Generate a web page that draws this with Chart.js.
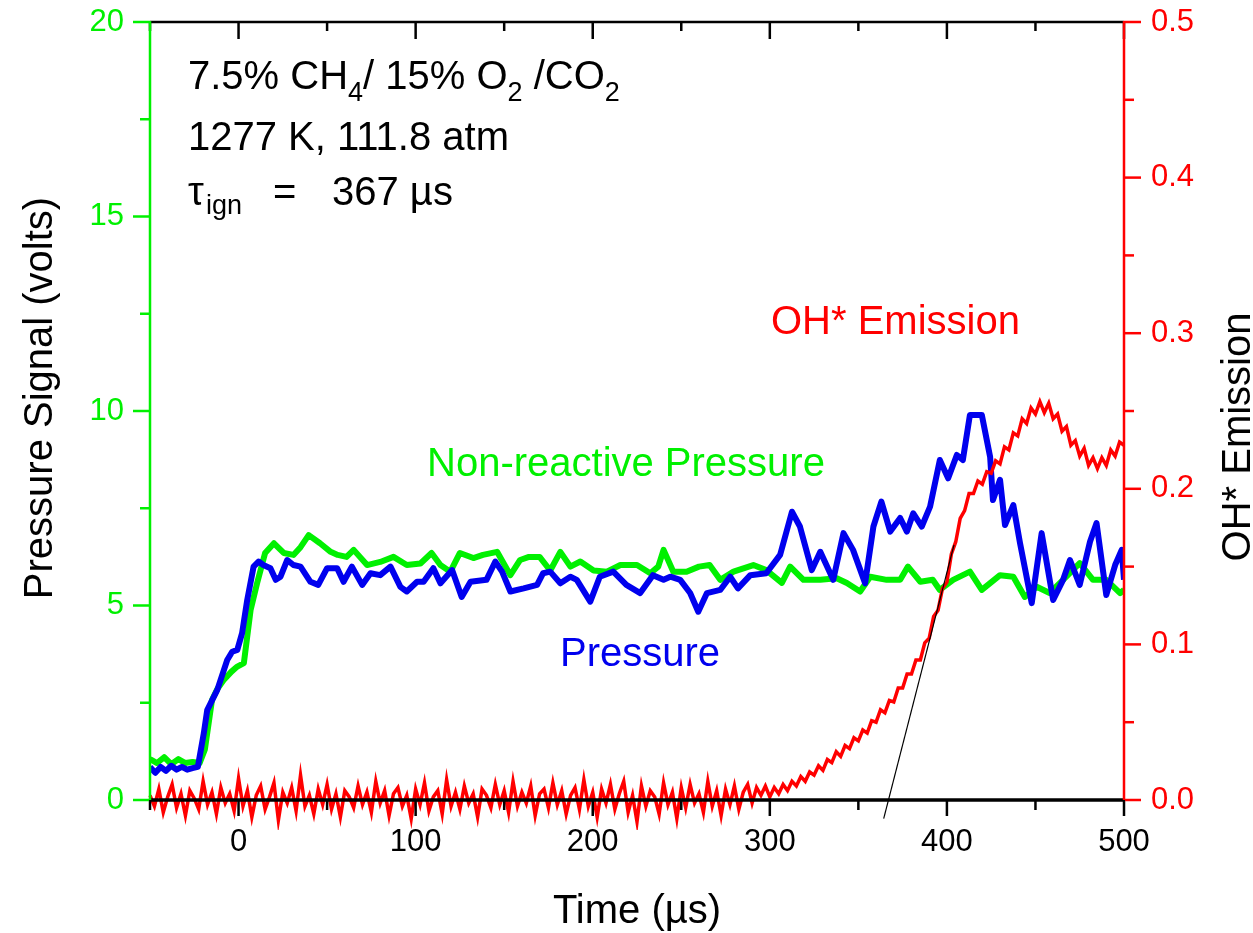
<!DOCTYPE html>
<html>
<head>
<meta charset="utf-8">
<script src="https://cdn.jsdelivr.net/npm/chart.js@4.4.0/dist/chart.umd.min.js"></script>
<style>
  html, body { margin: 0; padding: 0; background: #fff; }
</style>
</head>
<body>
<canvas id="myChart" width="1253" height="933"></canvas>
<script>
// axis ticks
const timeTicks = [0, 100, 200, 300, 400, 500];
const timeMinor = [-50, 50, 150, 250, 350, 450];
const pressureTicks = [0, 5, 10, 15, 20];
const pressureMinor = [2.5, 7.5, 12.5, 17.5];
const ohTicks = [0, 0.1, 0.2, 0.3, 0.4, 0.5];
const ohMinor = [0.05, 0.15, 0.25, 0.35, 0.45];

// non-reactive pressure (green), time in us / volts
const nonReactiveTime = [-50, -46, -42, -38, -34, -30, -26, -22, -19, -15, -12, -8.5, -4, -0.7, 3, 6.8, 10.5, 15, 20, 25.5,
  31, 35, 39.6, 46, 52, 56, 61, 65, 72.6, 80, 87.5, 95, 102.7, 109, 114, 119.6, 125, 132.6, 138, 146,
  153.5, 159, 164, 170, 176, 181.7, 187.4, 193, 200.5, 208, 215.6, 225, 232.5, 237, 240, 245.5, 253, 260, 266, 272,
  279.5, 290.7, 298, 306.8, 311.5, 319, 328.5, 337.8, 343.5, 351, 356.7, 366, 373.6, 378, 385, 392, 396, 403.5, 413, 419.7,
  430, 437.5, 444, 450.7, 458, 465.6, 475, 482.5, 490, 497.8, 500];
const nonReactiveVolts = [1.05, 0.95, 1.1, 0.92, 1.05, 0.95, 0.98, 0.95, 1.3, 2.57, 2.85, 3.08, 3.3, 3.43, 3.52, 4.88, 5.58, 6.35, 6.6, 6.35,
  6.3, 6.5, 6.81, 6.6, 6.38, 6.3, 6.25, 6.43, 6.04, 6.12, 6.25, 6.04, 6.08, 6.35, 6.04, 5.87, 6.35, 6.22, 6.3, 6.38,
  5.78, 6.17, 6.25, 6.25, 5.9, 6.38, 6.0, 6.13, 5.9, 5.87, 6.04, 6.04, 5.83, 6.0, 6.43, 5.87, 5.87, 6.0, 6.04, 5.66,
  5.87, 6.04, 5.91, 5.58, 6.0, 5.66, 5.66, 5.7, 5.58, 5.36, 5.74, 5.66, 5.66, 6.0, 5.61, 5.66, 5.4, 5.66, 5.87, 5.4,
  5.78, 5.74, 5.22, 5.48, 5.32, 5.66, 6.09, 5.66, 5.66, 5.32, 5.4];

// reactive pressure (blue)
const pressureTime = [-50, -47, -44, -41, -38, -35, -32, -29, -26, -23, -19.6, -17.7, -12, -6.4, -3.6, -0.7, 2, 4.9, 8.5, 11.3,
  14, 18, 21, 23.7, 27.5, 31, 35, 40.6, 45, 50, 55.7, 59.3, 64, 69.8, 74.5, 80, 85.8, 91.4, 95, 100.8,
  104.5, 110, 114, 120.6, 126, 131, 140, 145, 148.8, 153.5, 161, 168.6, 172, 176, 181.7, 187.4, 191, 198.6, 204, 211.6,
  219, 226.8, 234, 240, 243.8, 249.4, 255, 259.6, 264.5, 272, 277.6, 282, 289, 298, 305.8, 312.5, 317, 323.7, 328.5, 335.8,
  341.6, 347, 353.8, 358.5, 363, 368, 373.6, 377.4, 381, 385.8, 390.5, 396, 400.7, 405.6, 409, 413, 419.7, 424.4, 426, 430,
  432.8, 437.5, 441.3, 447.9, 453.5, 460, 465.6, 469.5, 475, 480.8, 484.5, 490, 495, 498.7, 500];
const pressureVolts = [0.85, 0.7, 0.85, 0.75, 0.88, 0.78, 0.85, 0.78, 0.82, 0.85, 1.72, 2.31, 2.83, 3.6, 3.81, 3.86, 4.29, 5.14, 6.0, 6.13,
  6.04, 5.96, 5.66, 5.74, 6.17, 6.04, 6.0, 5.61, 5.53, 5.96, 5.96, 5.61, 6.0, 5.53, 5.83, 5.78, 6.0, 5.48, 5.36, 5.61,
  5.61, 5.96, 5.57, 5.91, 5.22, 5.61, 5.66, 6.13, 5.87, 5.36, 5.44, 5.53, 5.83, 5.87, 5.57, 5.74, 5.66, 5.1, 5.74, 5.87,
  5.53, 5.32, 5.78, 5.66, 5.74, 5.66, 5.32, 4.84, 5.32, 5.4, 5.74, 5.44, 5.78, 5.83, 6.3, 7.41, 7.03, 5.91, 6.38, 5.66,
  6.86, 6.43, 5.57, 7.03, 7.67, 6.9, 7.25, 6.9, 7.37, 7.03, 7.54, 8.74, 8.27, 8.87, 8.74, 9.9, 9.9, 8.82, 7.71, 8.23,
  7.07, 7.58, 6.6, 5.06, 6.86, 5.14, 5.66, 6.17, 5.53, 6.64, 7.12, 5.27, 6.04, 6.43, 5.66];

// OH* emission (red), sampled every 2.5 us from -50 us
const ohStart = -50;
const ohStep = 2.5;
const ohEmission = [
  0.003, -0.004, 0.007, -0.008, 0.002, 0.010, -0.005, 0.004, -0.010, 0.006,
  0.001, -0.006, 0.012, -0.003, 0.005, -0.009, 0.008, -0.002, 0.004, -0.007,
  0.014, -0.004, 0.006, -0.011, 0.003, 0.009, -0.006, 0.002, 0.011, -0.013,
  0.005, -0.002, 0.008, -0.007, 0.016, -0.004, 0.003, -0.009, 0.007, -0.003,
  0.010, -0.006, 0.004, -0.011, 0.006, 0.002, -0.005, 0.009, -0.003, 0.005,
  -0.008, 0.012, -0.002, 0.006, -0.010, 0.004, 0.008, -0.004, 0.003, -0.012,
  0.007, -0.003, 0.011, -0.007, 0.002, 0.006, -0.009, 0.013, -0.004, 0.005,
  -0.006, 0.009, -0.002, 0.004, -0.011, 0.007, 0.003, -0.005, 0.010, -0.003,
  0.006, -0.008, 0.012, -0.004, 0.005, -0.002, 0.009, -0.010, 0.004, 0.007,
  -0.005, 0.011, -0.003, 0.006, -0.009, 0.003, 0.008, -0.006, 0.013, -0.004,
  0.005, -0.011, 0.007, -0.002, 0.010, -0.006, 0.004, 0.012, -0.008, 0.003,
  -0.014, 0.009, -0.004, 0.006, 0.002, -0.009, 0.011, -0.003, 0.005, -0.012,
  0.008, -0.005, 0.010, -0.002, 0.004, -0.008, 0.012, -0.004, 0.006, -0.010,
  0.007, -0.003, 0.009, -0.006, 0.005, 0.010, -0.002, 0.008, 0.003, 0.009,
  0.002, 0.008, 0.004, 0.010, 0.006, 0.012, 0.009, 0.015, 0.012, 0.018,
  0.016, 0.022, 0.019, 0.026, 0.024, 0.031, 0.028, 0.035, 0.033, 0.040,
  0.038, 0.045, 0.043, 0.051, 0.050, 0.058, 0.056, 0.064, 0.063, 0.072,
  0.072, 0.081, 0.081, 0.090, 0.090, 0.101, 0.104, 0.118, 0.122, 0.136,
  0.140, 0.158, 0.166, 0.181, 0.186, 0.197, 0.197, 0.205, 0.203, 0.211,
  0.210, 0.218, 0.216, 0.227, 0.225, 0.236, 0.234, 0.245, 0.242, 0.252,
  0.248, 0.256, 0.249, 0.255, 0.245, 0.248, 0.237, 0.240, 0.228, 0.231,
  0.221, 0.226, 0.215, 0.220, 0.213, 0.220, 0.215, 0.225, 0.221, 0.230,
  0.228
];

// tangent used for ignition time (tau_ign = 367 us)
const tangentTime = [364.3, 404];
const tangentOH = [-0.012, 0.164];

const FONT = "'Liberation Sans', Arial, sans-serif";
const GREEN = '#00f000';
const BLUE = '#0000ee';
const RED = '#ff0000';

function pairs(xs, ys) {
  return xs.map((t, i) => ({ x: t, y: ys[i] }));
}
const ohData = ohEmission.map((v, i) => ({ x: ohStart + i * ohStep, y: v }));

function drawRich(ctx, x, y, parts) {
  parts.forEach(p => {
    if (p.sub) {
      ctx.font = '27px ' + FONT;
      ctx.fillText(p.t, x, y + 12);
    } else {
      ctx.font = '40px ' + FONT;
      ctx.fillText(p.t, x, y);
    }
    x += ctx.measureText(p.t).width;
  });
}

function noPad(s) {
  s.paddingTop = 0; s.paddingBottom = 0; s.paddingLeft = 0; s.paddingRight = 0;
}

const frame = {
  id: 'frame',
  afterDraw(chart) {
    const ctx = chart.ctx;
    const a = chart.chartArea;
    const xs = chart.scales.x, ys = chart.scales.y, y2 = chart.scales.y2;
    ctx.save();
    ctx.lineCap = 'butt';

    function line(x1, y1, x2, y2c, col, w) {
      ctx.strokeStyle = col; ctx.lineWidth = w;
      ctx.beginPath(); ctx.moveTo(x1, y1); ctx.lineTo(x2, y2c); ctx.stroke();
    }
    // bottom + top ticks
    timeTicks.forEach(v => {
      const p = xs.getPixelForValue(v);
      line(p, a.bottom, p, a.bottom + 16, '#000', 2.5);
      line(p, a.top, p, a.top + 17, '#000', 2.5);
    });
    timeMinor.forEach(v => {
      const p = xs.getPixelForValue(v);
      line(p, a.bottom, p, a.bottom + 10, '#000', 2.5);
      line(p, a.top, p, a.top + 9, '#000', 2.5);
    });
    pressureTicks.forEach(v => {
      const p = ys.getPixelForValue(v);
      line(a.left, p, a.left - 17, p, GREEN, 2.5);
    });
    pressureMinor.forEach(v => {
      const p = ys.getPixelForValue(v);
      line(a.left, p, a.left - 10, p, GREEN, 2.5);
    });
    ohTicks.forEach(v => {
      const p = y2.getPixelForValue(v);
      line(a.right, p, a.right + 17, p, RED, 2.5);
    });
    ohMinor.forEach(v => {
      const p = y2.getPixelForValue(v);
      line(a.right, p, a.right + 10, p, RED, 2.5);
    });
    // axis lines
    line(a.left, a.top, a.right, a.top, '#000', 2.5);
    line(a.left - 1, a.bottom, a.right + 1, a.bottom, '#000', 3.5);
    line(a.left, a.top - 1, a.left, a.bottom, GREEN, 2.5);
    line(a.right, a.top - 1, a.right, a.bottom, RED, 2.5);

    // axis titles
    ctx.fillStyle = '#000';
    ctx.font = '40px ' + FONT;
    ctx.textAlign = 'center';
    ctx.textBaseline = 'alphabetic';
    ctx.fillText('Time (\u00b5s)', (a.left + a.right) / 2, 923);
    ctx.save();
    ctx.translate(52, 398);
    ctx.rotate(-Math.PI / 2);
    ctx.fillText('Pressure Signal (volts)', 0, 0);
    ctx.restore();
    ctx.save();
    ctx.translate(1250, 437);
    ctx.rotate(-Math.PI / 2);
    ctx.fillText('OH* Emission', 0, 0);
    ctx.restore();

    // annotations
    ctx.textAlign = 'left';
    drawRich(ctx, 188, 89, [{ t: '7.5% CH' }, { t: '4', sub: true }, { t: '/ 15% O' }, { t: '2', sub: true }, { t: ' /CO' }, { t: '2', sub: true }]);
    drawRich(ctx, 188, 150, [{ t: '1277 K, 111.8 atm' }]);
    ctx.font = '40px ' + FONT;
    ctx.fillText('\u03c4', 188, 205);
    ctx.font = '27px ' + FONT;
    ctx.fillText('ign', 206, 214);
    ctx.font = '40px ' + FONT;
    ctx.fillText('=', 273, 205);
    ctx.fillText('367 \u00b5s', 332, 205);

    ctx.fillStyle = RED;
    ctx.fillText('OH* Emission', 771, 334);
    ctx.fillStyle = GREEN;
    ctx.fillText('Non-reactive Pressure', 427, 476);
    ctx.fillStyle = BLUE;
    ctx.fillText('Pressure', 560, 666);
    ctx.restore();
  }
};

const ctx = document.getElementById('myChart').getContext('2d');
const myChart = new Chart(ctx, {
  type: 'line',
  data: {
    datasets: [
      { label: 'tangent', data: pairs(tangentTime, tangentOH), yAxisID: 'y2', borderColor: '#000', borderWidth: 1.2, pointRadius: 0, clip: false },
      { label: 'OH* Emission', data: ohData, yAxisID: 'y2', borderColor: RED, borderWidth: 3.5, pointRadius: 0, clip: 30 },
      { label: 'Pressure', data: pairs(pressureTime, pressureVolts), yAxisID: 'y', borderColor: BLUE, borderWidth: 6, pointRadius: 0, borderJoinStyle: 'round' },
      { label: 'Non-reactive Pressure', data: pairs(nonReactiveTime, nonReactiveVolts), yAxisID: 'y', borderColor: GREEN, borderWidth: 6, pointRadius: 0, borderJoinStyle: 'round' }
    ]
  },
  options: {
    responsive: false,
    animation: false,
    layout: { padding: { top: 22, left: 0, right: 0, bottom: 0 } },
    plugins: { legend: { display: false }, tooltip: { enabled: false } },
    elements: { line: { tension: 0 } },
    scales: {
      x: {
        type: 'linear', min: -50, max: 500,
        grid: { display: false, drawTicks: false },
        border: { display: false },
        afterFit: s => { s.height = 133; noPad(s); },
        afterBuildTicks: s => { s.ticks = timeTicks.map(v => ({ value: v })); },
        ticks: { color: '#000', font: { family: FONT, size: 31 }, padding: 24, maxRotation: 0 }
      },
      y: {
        position: 'left', min: 0, max: 20,
        grid: { display: false, drawTicks: false },
        border: { display: false },
        afterFit: s => { s.width = 150; noPad(s); },
        afterBuildTicks: s => { s.ticks = pressureTicks.map(v => ({ value: v })); },
        ticks: { color: GREEN, font: { family: FONT, size: 31 }, padding: 26 }
      },
      y2: {
        position: 'right', min: 0, max: 0.5,
        grid: { display: false, drawTicks: false },
        border: { display: false },
        afterFit: s => { s.width = 129; noPad(s); },
        afterBuildTicks: s => { s.ticks = ohTicks.map(v => ({ value: v })); },
        ticks: { color: RED, font: { family: FONT, size: 31 }, padding: 27, callback: v => v.toFixed(1) }
      }
    }
  },
  plugins: [frame]
});
</script>
</body>
</html>
